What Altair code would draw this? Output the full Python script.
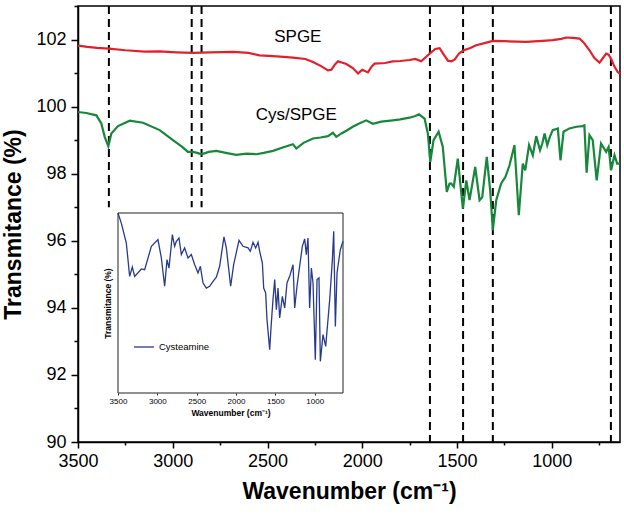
import altair as alt
import pandas as pd

# ---- SPGE (red) ----
spge_wn = [3500, 3450, 3400, 3337, 3250, 3150, 3069, 2980, 2894, 2800, 2683, 2600, 2542,
           2450, 2366, 2300, 2260, 2215, 2181, 2163, 2145, 2128, 2100, 2084, 2050, 2022,
           2000, 1970, 1950, 1935, 1880, 1839, 1800, 1751, 1720, 1689, 1660, 1640, 1615,
           1592, 1570, 1548, 1530, 1513, 1487, 1464, 1430, 1399, 1350, 1311, 1250, 1135,
           1050, 995, 950, 924, 890, 854, 830, 801, 775, 748, 730, 713, 700, 687, 670,
           652, 640]
spge_t = [101.82, 101.78, 101.75, 101.73, 101.68, 101.64, 101.65, 101.62, 101.60, 101.62,
          101.63, 101.60, 101.53, 101.50, 101.46, 101.42, 101.33, 101.20, 101.08, 101.10,
          101.25, 101.35, 101.30, 101.27, 101.15, 100.99, 101.10, 101.02, 101.20, 101.28,
          101.30, 101.35, 101.36, 101.39, 101.42, 101.35, 101.50, 101.60, 101.72, 101.74,
          101.55, 101.37, 101.35, 101.40, 101.60, 101.68, 101.75, 101.83, 101.90, 101.96,
          101.95, 101.93, 101.96, 101.98, 102.02, 102.06, 102.05, 102.03, 101.90, 101.68,
          101.45, 101.31, 101.45, 101.58, 101.55, 101.43, 101.20, 101.03, 100.98]

# ---- Cys/SPGE (green) ----
cys_wn = [3500, 3456, 3403, 3377, 3359, 3340, 3324, 3289, 3227, 3157, 3069, 2999, 2950,
          2920, 2894, 2870, 2849, 2810, 2770, 2720, 2665, 2610, 2559, 2520, 2471, 2420,
          2366, 2348, 2310, 2260, 2220, 2181, 2155, 2137, 2110, 2084, 2050, 2022, 1979,
          1944, 1900, 1839, 1800, 1751, 1720, 1701, 1671, 1654, 1641, 1624, 1597, 1575,
          1554, 1540, 1531, 1517, 1496, 1469, 1451, 1434, 1404, 1381, 1367, 1343, 1325,
          1311, 1293, 1267, 1245, 1223, 1197, 1174, 1153, 1140, 1120, 1100, 1082, 1062,
          1050, 1038, 1024, 1010, 995, 968, 954, 938, 907, 870, 837, 828, 816, 801, 784,
          763, 740, 713, 700, 687, 669, 655, 640]
cys_t = [99.84, 99.81, 99.74, 99.50, 99.10, 98.82, 99.20, 99.42, 99.58, 99.52, 99.30, 99.00,
         98.80, 98.65, 98.65, 98.62, 98.58, 98.65, 98.68, 98.62, 98.56, 98.60, 98.58, 98.62,
         98.68, 98.78, 98.88, 98.75, 98.92, 99.05, 99.08, 99.12, 99.22, 99.10, 99.20, 99.28,
         99.40, 99.48, 99.59, 99.49, 99.55, 99.59, 99.62, 99.67, 99.72, 99.77, 99.64, 99.20,
         98.35, 99.00, 99.25, 98.80, 97.46, 97.70, 97.71, 97.61, 98.45, 96.96, 97.80, 97.21,
         98.20, 97.21, 97.30, 98.50, 97.50, 96.32, 97.21, 97.71, 97.90, 98.25, 98.85, 96.76,
         98.30, 98.10, 98.85, 98.55, 99.12, 98.70, 98.90, 99.20, 98.85, 99.10, 99.30, 99.35,
         98.40, 99.25, 99.35, 99.40, 99.42, 99.44, 98.03, 99.15, 99.00, 97.80, 98.90, 98.65,
         98.80, 98.10, 98.55, 98.30, 98.30]

# ---- Cysteamine (inset, relative transmittance) ----
cya_wn = [3500, 3458, 3394, 3352, 3318, 3288, 3203, 3161, 3076, 2992, 2949, 2907, 2877,
          2852, 2809, 2780, 2758, 2725, 2695, 2653, 2610, 2568, 2525, 2483, 2453, 2419,
          2377, 2335, 2292, 2250, 2208, 2153, 2123, 2068, 2030, 1962, 1911, 1847, 1818,
          1784, 1750, 1720, 1699, 1665, 1648, 1623, 1606, 1572, 1551, 1530, 1508, 1487,
          1466, 1445, 1411, 1381, 1352, 1318, 1275, 1254, 1225, 1191, 1157, 1127, 1106,
          1085, 1064, 1042, 1021, 992, 970, 945, 928, 894, 860, 809, 775, 758, 737, 716,
          674, 640]
cya_t = [100.0, 94.4, 83.3, 64.8, 70.0, 64.8, 68.9, 68.5, 81.5, 85.2, 75.0, 59.3, 74.1,
         69.4, 88.0, 81.5, 84.3, 86.1, 76.9, 80.6, 75.0, 76.9, 71.3, 66.7, 70.4, 61.1,
         58.3, 59.3, 62.0, 64.4, 70.4, 86.7, 80.6, 59.3, 71.3, 84.8, 81.5, 80.6, 78.7,
         83.7, 80.6, 83.7, 78.7, 72.2, 58.3, 55.6, 40.7, 24.1, 38.9, 51.9, 63.0, 46.3,
         58.3, 41.7, 53.7, 47.2, 61.1, 64.8, 71.3, 47.2, 59.3, 70.4, 81.5, 85.6, 76.9,
         86.1, 47.2, 69.4, 61.1, 18.5, 63.0, 63.9, 17.6, 32.4, 25.9, 51.9, 74.1, 89.8,
         37.0, 66.7, 79.6, 84.3]

# ---- band positions marked with dashed guides ----
band_wn = [3337, 2900, 2848, 1643, 1468, 1311, 688]
band_top = [103, 103, 103, 103, 103, 103, 103]
band_bottom = [97.0, 97.0, 97.0, 90, 90, 90, 90]

# ---- curve labels ----
label_text = ["SPGE", "Cys/SPGE"]
label_wn = [2340, 2348]
label_t = [102.07, 99.74]

x_ticks = list(range(3500, 749, -250))
y_ticks = list(range(90, 104))
inset_x_ticks = [3500, 3000, 2500, 2000, 1500, 1000]

FONT = "Liberation Sans"
RED = "#e3202a"
GREEN = "#17873a"
BLUE = "#283a8c"

spge = pd.DataFrame({"wn": spge_wn, "t": spge_t})
cys = pd.DataFrame({"wn": cys_wn, "t": cys_t})
cya = pd.DataFrame({"wn": cya_wn, "t": cya_t, "name": "Cysteamine"})
bands = pd.DataFrame({"wn": band_wn, "top": band_top, "bottom": band_bottom})
labels = pd.DataFrame({"text": label_text, "wn": label_wn, "t": label_t})
inset_box = pd.DataFrame({"x0": [3500], "x1": [640], "y0": [0], "y1": [100]})

x_main = alt.Scale(domain=[640, 3500], reverse=True, nice=False, zero=False)
y_main = alt.Scale(domain=[90, 103], nice=False, zero=False)

x_axis = alt.Axis(
    values=x_ticks, format="d", labelFlush=False,
    labelExpr="datum.value % 500 === 0 ? datum.label : ''",
    tickSize={"condition": {"test": "datum.value % 500 === 0", "value": 6}, "value": 3},
    title="Wavenumber (cm⁻¹)", grid=False, labelFontSize=18, labelFont=FONT,
    labelColor="black", titleFont=FONT, titleFontSize=23, titleFontWeight="bold",
    titleColor="black", titlePadding=10, domainColor="black", domainWidth=1.5,
    tickColor="black", tickWidth=1.5, labelPadding=4,
)
y_axis = alt.Axis(
    values=y_ticks, format="d", labelFlush=False,
    labelExpr="datum.value % 2 === 0 && datum.value < 103 ? datum.label : ''",
    tickSize={"condition": {"test": "datum.value % 2 === 0", "value": 7}, "value": 4},
    title="Transmitance (%)", grid=False, labelFontSize=18, labelFont=FONT,
    labelColor="black", titleFont=FONT, titleFontSize=23, titleFontWeight="bold",
    titleColor="black", titlePadding=10, domainColor="black", domainWidth=1.5,
    tickColor="black", tickWidth=1.5, labelPadding=5,
)

guides = alt.Chart(bands).mark_rule(
    color="black", strokeWidth=2, strokeDash=[8, 5]
).encode(
    x=alt.X("wn:Q", scale=x_main, axis=x_axis),
    y=alt.Y("top:Q", scale=y_main, axis=y_axis),
    y2="bottom:Q",
)
spge_line = alt.Chart(spge).mark_line(color=RED, strokeWidth=2.2).encode(
    x=alt.X("wn:Q", scale=x_main, axis=x_axis), y=alt.Y("t:Q", scale=y_main, axis=y_axis)
)
cys_line = alt.Chart(cys).mark_line(color=GREEN, strokeWidth=2.2).encode(
    x=alt.X("wn:Q", scale=x_main, axis=x_axis), y=alt.Y("t:Q", scale=y_main, axis=y_axis)
)
curve_labels = alt.Chart(labels).mark_text(
    font=FONT, fontSize=17, color="black"
).encode(
    x=alt.X("wn:Q", scale=x_main, axis=x_axis), y=alt.Y("t:Q", scale=y_main, axis=y_axis),
    text="text:N",
)
main = alt.layer(guides, spge_line, cys_line, curve_labels)

# ---- inset panel ----
xi = alt.Scale(domain=[640, 3500], reverse=True, range=[40, 265], nice=False, zero=False)
yi = alt.Scale(domain=[0, 100], range=[387, 207], nice=False, zero=False)

xi_axis = alt.Axis(
    orient="bottom", offset=-49, values=inset_x_ticks, format="d", grid=False,
    labelFlush=False, domain=False, tickSize=2, tickColor="#222", labelFontSize=8,
    labelFont=FONT, labelColor="black", labelPadding=2, title="Wavenumber (cm⁻¹)",
    titleFont=FONT, titleFontSize=8.5, titleFontWeight="bold", titleColor="black",
    titlePadding=3,
)
yi_axis = alt.Axis(
    orient="left", offset=-40, labels=False, ticks=False, domain=False, grid=False,
    title="Transmitance (%)", titleFont=FONT, titleFontSize=8.5,
    titleFontWeight="bold", titleColor="black", titlePadding=6,
)

frame = alt.Chart(inset_box).mark_rect(fill="white", stroke="#222", strokeWidth=1).encode(
    x=alt.X("x0:Q", scale=xi, axis=xi_axis),
    x2="x1:Q",
    y=alt.Y("y0:Q", scale=yi, axis=yi_axis),
    y2="y1:Q",
)
cya_line = alt.Chart(cya).mark_line(strokeWidth=1.3).encode(
    x=alt.X("wn:Q", scale=xi, axis=xi_axis),
    y=alt.Y("t:Q", scale=yi, axis=yi_axis),
    color=alt.Color("name:N", scale=alt.Scale(domain=["Cysteamine"], range=[BLUE]),
                    legend=alt.Legend(orient="none", legendX=55, legendY=330, title=None,
                                      symbolType="stroke", symbolSize=400,
                                      symbolStrokeWidth=1.3, labelFontSize=9.5,
                                      labelFont=FONT, labelColor="black", padding=0)),
)
inset = alt.layer(frame, cya_line)

chart = alt.layer(main, inset).resolve_scale(
    x="independent", y="independent"
).resolve_axis(x="independent", y="independent").properties(
    width=542, height=436,
    padding={"left": 78, "top": 6, "right": 4, "bottom": 74},
    autosize=alt.AutoSizeParams(type="none"),
    background="white",
).configure_view(stroke="black", strokeWidth=1.5)

chart.save("out.html", embed_options={"renderer": "svg", "actions": False})
